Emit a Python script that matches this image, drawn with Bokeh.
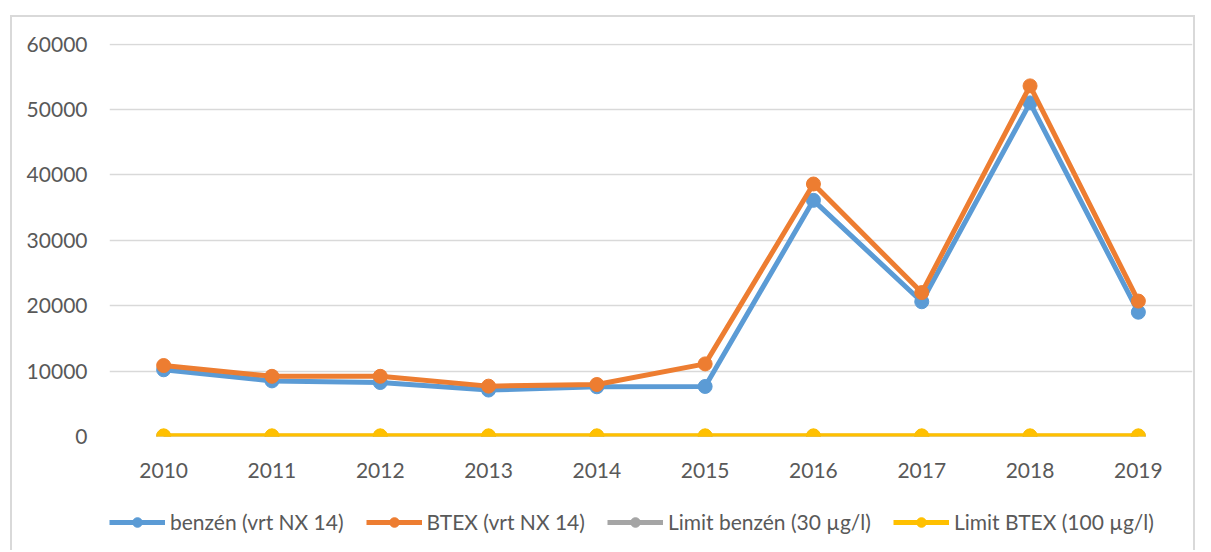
from bokeh.plotting import figure
from bokeh.layouts import column
from bokeh.models import Range1d, FixedTicker, NumeralTickFormatter, Legend, LegendItem
from bokeh.embed import file_html
from bokeh.resources import INLINE

years = [2010, 2011, 2012, 2013, 2014, 2015, 2016, 2017, 2018, 2019]
benzen = [10200, 8500, 8250, 7100, 7600, 7650, 36100, 20600, 51000, 19000]
btex = [10850, 9200, 9200, 7700, 7950, 11100, 38600, 22000, 53600, 20700]
limit_benzen = [30] * 10
limit_btex = [100] * 10

series = [
    ("benzén (vrt NX 14)", benzen, "#5B9BD5"),
    ("BTEX (vrt NX 14)", btex, "#ED7D31"),
    ("Limit benzén (30 µg/l)", limit_benzen, "#A5A5A5"),
    ("Limit BTEX (100 µg/l)", limit_btex, "#FFC000"),
]

FONT = "Lato"
TXT = "#595959"

# main chart
p = figure(width=1205, height=495, output_backend="svg", toolbar_location=None,
           x_range=Range1d(2009.5, 2019.5), y_range=Range1d(0, 60080),
           min_border_left=109, min_border_right=13, min_border_top=43, min_border_bottom=59)
p.border_fill_color = None
p.background_fill_color = None
p.outline_line_color = None

p.xaxis.ticker = FixedTicker(ticks=years)
p.yaxis.ticker = FixedTicker(ticks=[0, 10000, 20000, 30000, 40000, 50000, 60000])
p.yaxis.formatter = NumeralTickFormatter(format="0")
for ax in (p.xaxis, p.yaxis):
    ax.axis_line_color = None
    ax.major_tick_line_color = None
    ax.minor_tick_line_color = None
    ax.major_label_text_font = FONT
    ax.major_label_text_font_size = "21px"
    ax.major_label_text_color = TXT
p.yaxis.major_label_standoff = 16
p.xaxis.major_label_standoff = 20
p.xgrid.grid_line_color = None
p.ygrid.grid_line_color = "#d9d9d9"
p.ygrid.grid_line_width = 1.5

for name, vals, col in series:
    p.line(years, vals, line_color=col, line_width=5, line_join="round")
    p.scatter(years, vals, size=14, fill_color=col, line_color=col)

# legend strip
lf = figure(width=1205, height=55, output_backend="svg", toolbar_location=None,
            x_axis_type=None, y_axis_type=None,
            x_range=Range1d(0, 1), y_range=Range1d(0, 1),
            min_border_left=0, min_border_right=0, min_border_top=0, min_border_bottom=0)
lf.border_fill_color = None
lf.background_fill_color = None
lf.outline_line_color = None
lf.grid.grid_line_color = None

items = []
for name, vals, col in series:
    l = lf.line(years, vals, line_color=col, line_width=5)
    s = lf.scatter(years, vals, size=14, fill_color=col, line_color=col)
    items.append(LegendItem(label=name, renderers=[l, s]))

legend = Legend(items=items, orientation="horizontal", location=(0, 16),
                glyph_width=56, glyph_height=24, label_standoff=5, spacing=22,
                padding=0, margin=0, border_line_color=None, background_fill_alpha=0,
                label_text_font=FONT, label_text_font_size="21px", label_text_color=TXT)
lf.add_layout(legend)

root = column(p, lf, spacing=0)
root.styles = {"background-color": "white",
               "box-shadow": ("inset 10px 0 0 0 white, inset -10px 0 0 0 white, inset 0 15px 0 0 white, "
                              "inset 12px 0 0 0 #d9d9d9, inset -12px 0 0 0 #d9d9d9, inset 0 17px 0 0 #d9d9d9")}

open("out.html", "w").write(file_html(root, INLINE))
